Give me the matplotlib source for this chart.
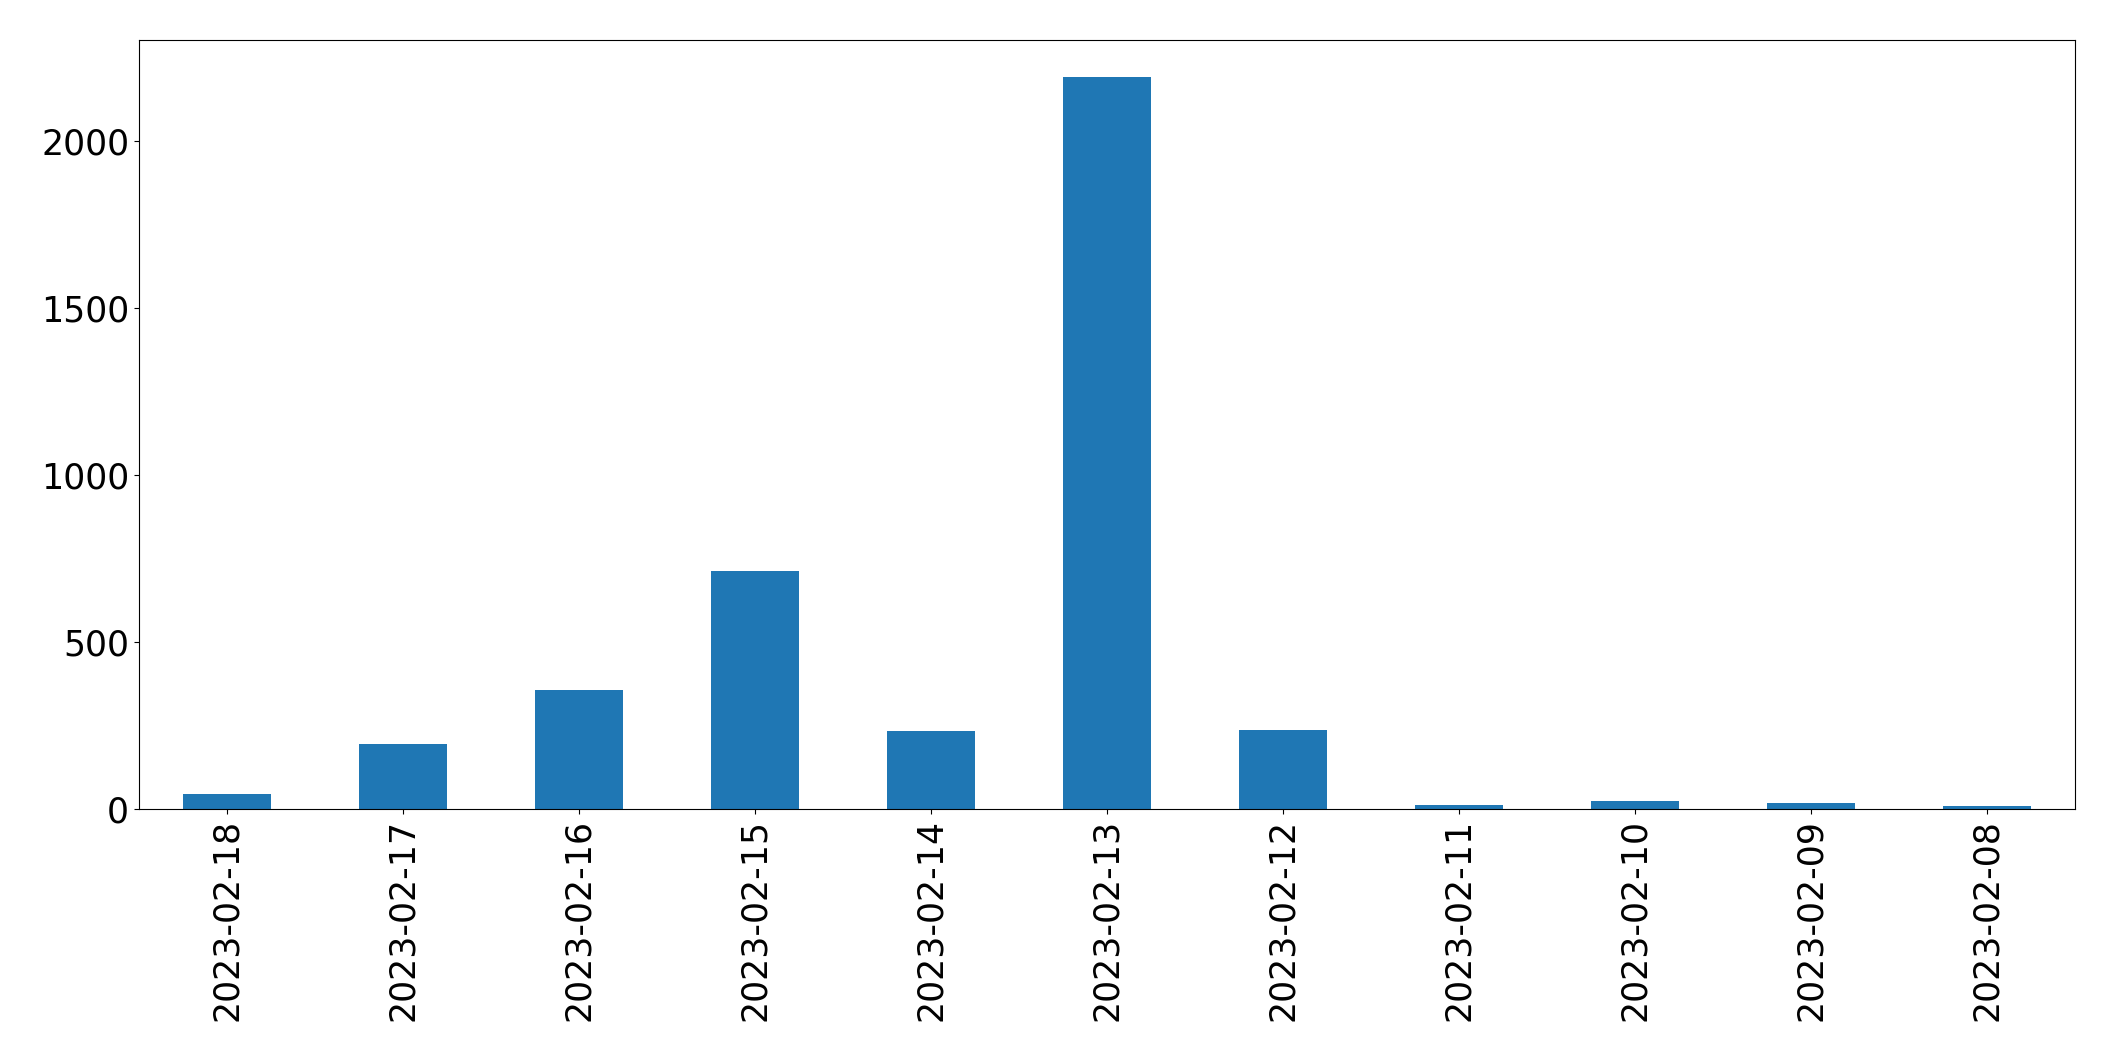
import matplotlib
matplotlib.use("Agg")
import matplotlib.pyplot as plt
import pandas as pd

dates = ["2023-02-18", "2023-02-17", "2023-02-16", "2023-02-15", "2023-02-14",
         "2023-02-13", "2023-02-12", "2023-02-11", "2023-02-10", "2023-02-09",
         "2023-02-08"]
counts = [45, 194, 356, 714, 235, 2193, 238, 13, 25, 19, 10]

s = pd.Series(counts, index=dates)

fig = plt.figure(figsize=(21.15, 10.61), dpi=100)
ax = fig.add_axes([0.0657, 0.2375, 0.9154, 0.7248])
s.plot(kind="bar", ax=ax, color="#1f77b4", width=0.5, fontsize=25)
ax.tick_params(axis="x", labelrotation=90)
fig.savefig("out.png", dpi=100)
